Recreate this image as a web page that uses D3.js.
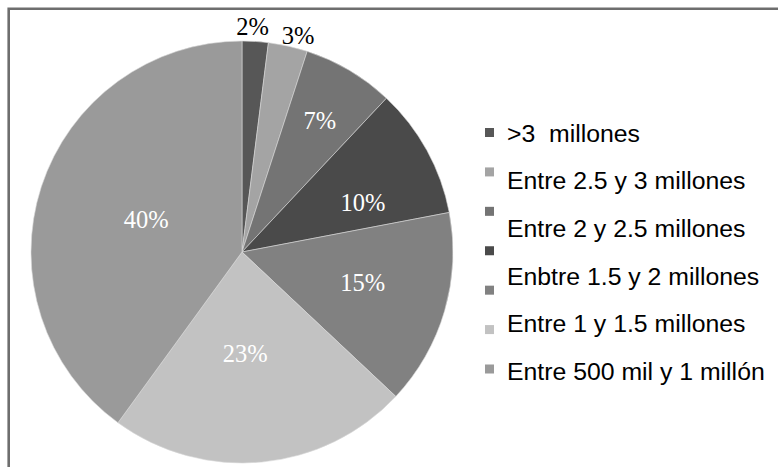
<!DOCTYPE html>
<html>
<head>
<meta charset="utf-8">
<script src="https://cdn.jsdelivr.net/npm/d3@7"></script>
<style>
  html, body { margin: 0; padding: 0; background: #fff; }
  svg { display: block; }
</style>
</head>
<body>
<svg id="chart" width="778" height="467"></svg>
<script>
// Share of each income bracket (percent), in drawing order clockwise from 12 o'clock
const shares = [2, 3, 7, 10, 15, 23, 40];
// Fill shade of each slice
const shades = ["#575757", "#a4a4a4", "#747474", "#4a4a4a", "#818181", "#c2c2c2", "#9a9a9a"];
// Legend captions as printed beside the swatches
const legendLabels = [
  ">3  millones",
  "Entre 2.5 y 3 millones",
  "Entre 2 y 2.5 millones",
  "Enbtre 1.5 y 2 millones",
  "Entre 1 y 1.5 millones",
  "Entre 500 mil y 1 millón"
];

// Label placement per slice: radius as a fraction of the pie radius, and a small angular nudge (degrees)
const labelRadius = [1.07, 1.06, 0.725, 0.62, 0.59, 0.48, 0.48];
const labelNudge  = [-0.9, 1.9, 0, 6.4, -2.2, 3.6, 1];

const svg = d3.select("#chart");
const cx = 242, cy = 252, R = 211;

// Frame lines along the top and left
svg.append("path")
  .attr("d", "M8.7,467 L8.7,8.7 L778,8.7")
  .attr("fill", "none")
  .attr("stroke", "#6e6e6e")
  .attr("stroke-width", 2.6);

const pie = d3.pie().sort(null).value(d => d)
  .startAngle(0).endAngle(2 * Math.PI);
const arcs = pie(shares);
const arc = d3.arc().innerRadius(0).outerRadius(R);

const g = svg.append("g").attr("transform", `translate(${cx},${cy})`);

g.selectAll("path.slice")
  .data(arcs)
  .enter().append("path")
  .attr("class", "slice")
  .attr("d", arc)
  .attr("fill", (d, i) => shades[i])
  .attr("stroke", "#d8d8d8")
  .attr("stroke-width", 0.6);

g.selectAll("text.pct")
  .data(arcs)
  .enter().append("text")
  .attr("class", "pct")
  .each(function (d, i) {
    const a = (d.startAngle + d.endAngle) / 2 + labelNudge[i] * Math.PI / 180;
    const r = labelRadius[i] * R;
    d3.select(this)
      .attr("x", r * Math.sin(a))
      .attr("y", -r * Math.cos(a));
  })
  .attr("text-anchor", "middle")
  .attr("dy", "0.35em")
  .attr("font-family", "'Liberation Serif', 'Times New Roman', serif")
  .attr("font-size", 24.5)
  .attr("fill", (d, i) => labelRadius[i] > 1 ? "#000" : "#fff")
  .text(d => d.data + "%");

// Legend: one swatch per slice, captions on their own rhythm
const swatchY = d3.scaleLinear().domain([0, shares.length - 1]).range([128, 364.5]);
const captionY = d3.scaleLinear().domain([0, legendLabels.length - 1]).range([141.7, 380]);

svg.selectAll("rect.swatch")
  .data(shares)
  .enter().append("rect")
  .attr("class", "swatch")
  .attr("x", 485)
  .attr("y", (d, i) => swatchY(i))
  .attr("width", 9)
  .attr("height", 9)
  .attr("fill", (d, i) => shades[i]);

svg.selectAll("text.caption")
  .data(legendLabels)
  .enter().append("text")
  .attr("class", "caption")
  .attr("x", 507)
  .attr("y", (d, i) => captionY(i))
  .attr("font-family", "'Liberation Sans', Arial, sans-serif")
  .attr("font-size", 24.8)
  .attr("fill", "#000")
  .style("white-space", "pre")
  .text(d => d);
</script>
</body>
</html>
